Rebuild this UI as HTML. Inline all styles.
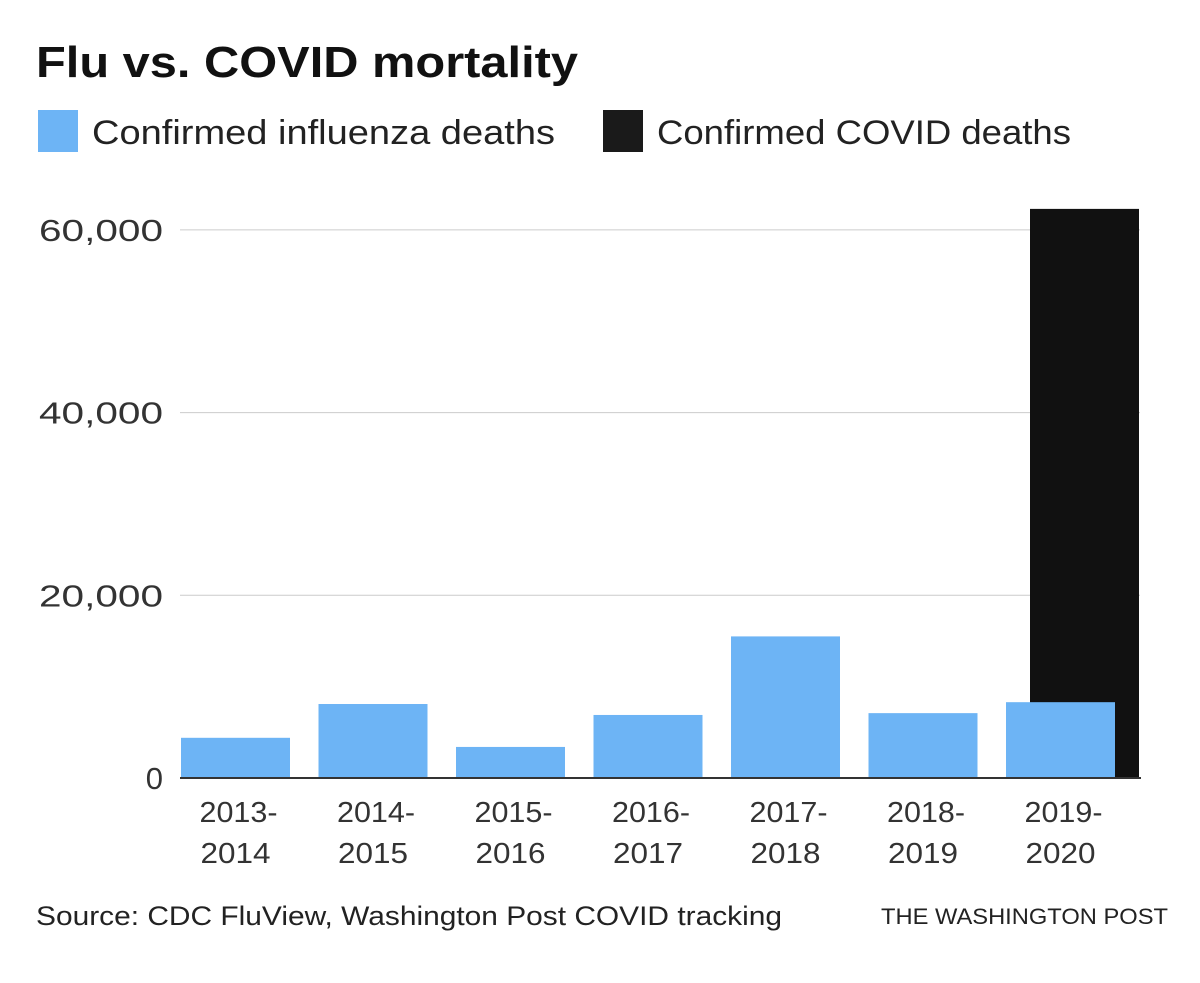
<!DOCTYPE html>
<html><head><meta charset="utf-8"><style>
body{margin:0;background:#fff;width:1200px;height:978px;overflow:hidden;font-family:"Liberation Sans",sans-serif;}
</style></head><body>
<svg width="1200" height="978">
<text x="36" y="77" font-size="44" font-weight="bold" fill="#111" textLength="542" lengthAdjust="spacingAndGlyphs">Flu vs. COVID mortality</text>
<g>
<rect x="38" y="110" width="40" height="42" fill="#6db4f5"/>
<text x="92" y="144" font-size="34" fill="#222" textLength="463" lengthAdjust="spacingAndGlyphs">Confirmed influenza deaths</text>
<rect x="603" y="110" width="40" height="42" fill="#1a1a1a"/>
<text x="657" y="144" font-size="34" fill="#222" textLength="414" lengthAdjust="spacingAndGlyphs">Confirmed COVID deaths</text>
</g>
<g id="plot"></g>
<text x="36" y="925" font-size="27" fill="#222" textLength="746" lengthAdjust="spacingAndGlyphs">Source: CDC FluView, Washington Post COVID tracking</text>
<text x="881" y="924" font-size="22" fill="#222" textLength="287" lengthAdjust="spacingAndGlyphs" font-family="Liberation Sans, sans-serif">THE WASHINGTON POST</text>
</svg>
<script>
const categories=["2013-2014","2014-2015","2015-2016","2016-2017","2017-2018","2018-2019","2019-2020"];
const fluDeaths=[4400,8100,3400,6900,15500,7100,8300];
const covidDeaths=[null,null,null,null,null,null,62300];
const yTicks=[0,20000,40000,60000];
const yTickLabels=["0","20,000","40,000","60,000"];
const NS="http://www.w3.org/2000/svg";
const g=document.getElementById("plot");
const x0=181,step=137.5,bw=109,yBase=778,yScale=182.7/20000;
const y=v=>yBase-v*yScale;
const xb=i=>x0+i*step;
function mk(t,a){const e=document.createElementNS(NS,t);for(const k in a)e.setAttribute(k,a[k]);g.appendChild(e);return e;}
yTicks.forEach((v,i)=>{
 if(v>0){const l=mk("line",{x1:180,x2:1140,y1:y(v),y2:y(v),stroke:"#ccc","stroke-width":1});
 
 }
 const lab=yTickLabels[i];
 const a={x:163,y:y(v)+11,"font-size":31,fill:"#333","text-anchor":"end"};
 if(lab.length>1){a.textLength=124;a.lengthAdjust="spacingAndGlyphs";}
 const t=mk("text",a);
 t.textContent=lab;
 
 
});
covidDeaths.forEach((v,i)=>{
 if(v==null)return;
 const r=mk("rect",{x:xb(i)+24,y:y(v),width:bw,height:yBase-y(v),fill:"#111"});
 
 
});
fluDeaths.forEach((v,i)=>{
 const r=mk("rect",{x:xb(i),y:y(v),width:bw,height:yBase-y(v),fill:"#6db4f5"});
 
 
 const parts=categories[i].split("-");
 const t1=mk("text",{x:xb(i)+bw/2+3,y:822,"font-size":29,fill:"#333","text-anchor":"middle",textLength:78,lengthAdjust:"spacingAndGlyphs"});
 t1.textContent=parts[0]+"-";
 
 
 const t2=mk("text",{x:xb(i)+bw/2,y:863,"font-size":29,fill:"#333","text-anchor":"middle",textLength:70,lengthAdjust:"spacingAndGlyphs"});
 t2.textContent=parts[1];
 
 
});
const ax=mk("line",{x1:180,x2:1141,y1:yBase,y2:yBase,stroke:"#333","stroke-width":2});


</script>
</body></html>
